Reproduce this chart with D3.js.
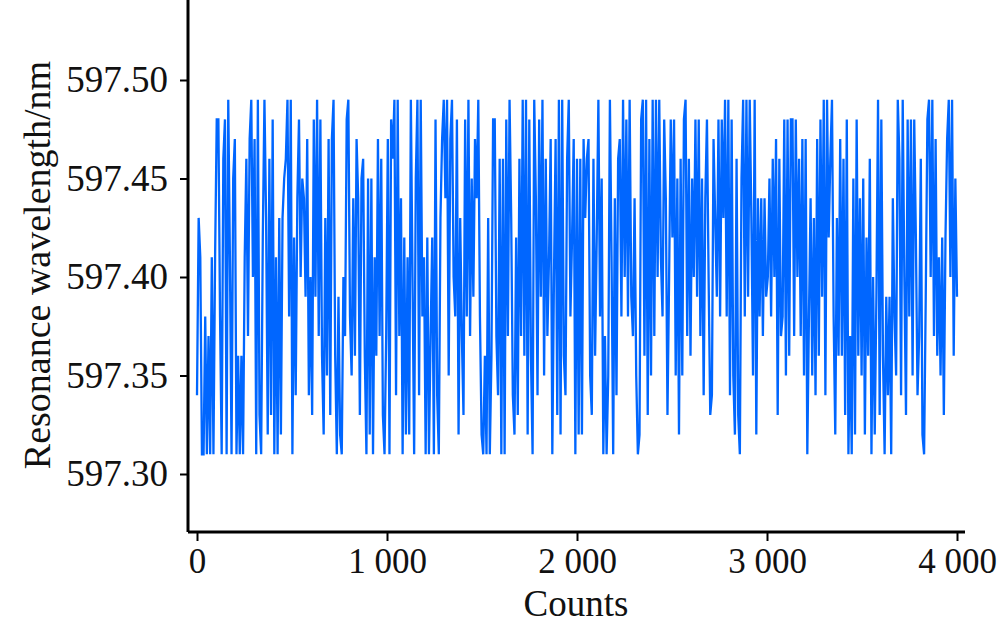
<!DOCTYPE html>
<html><head><meta charset="utf-8">
<script src="https://cdn.jsdelivr.net/npm/d3@7"></script>
<style>body{margin:0;background:#fff}svg{display:block}text{font-family:"Liberation Serif","Times New Roman",serif;fill:#111}</style>
</head><body><svg id="c" width="1000" height="627"></svg>
<script>
// Resonance wavelength readings (nm) left to right
const wavelength = [
597.34,597.43,597.41,597.31,597.31,597.38,597.31,597.37,597.31,597.41,597.31,597.41,597.48,597.48,597.38,597.31,597.46,597.48,597.31,597.49,597.41,597.31,597.45,597.47,597.31,597.36,597.31,597.36,597.31,597.41,597.46,597.37,597.47,597.49,597.40,597.47,597.31,597.49,597.33,597.31,597.42,597.49,597.43,597.32,597.46,597.33,597.48,597.31,597.41,597.31,597.43,597.32,597.43,597.45,597.46,
597.49,597.38,597.49,597.31,597.42,597.34,597.44,597.48,597.40,597.45,597.44,597.39,597.47,597.34,597.40,597.33,597.48,597.39,597.49,597.37,597.48,597.36,597.32,597.43,597.35,597.47,597.33,597.47,597.49,597.36,597.31,597.39,597.32,597.31,597.40,597.37,597.48,597.49,597.38,597.35,597.44,597.36,597.47,597.44,597.33,597.45,597.46,597.36,597.31,597.45,597.32,597.45,597.31,597.41,597.36,597.47,597.37,597.46,597.33,597.31,597.37,597.47,597.31,597.48,
597.46,597.49,597.34,597.49,597.37,597.44,597.31,597.42,597.32,597.41,597.32,597.49,597.40,597.31,597.45,597.49,597.34,597.49,597.38,597.41,597.31,597.42,597.31,597.37,597.42,597.31,597.48,597.34,597.31,597.43,597.47,597.49,597.44,597.49,597.35,597.47,597.49,597.40,597.38,597.48,597.32,597.43,597.37,597.33,597.48,597.38,597.49,597.37,597.45,597.39,597.47,597.44,597.49,597.38,597.32,597.31,597.36,597.31,597.43,597.31,597.36,597.48,
597.48,597.37,597.34,597.46,597.31,597.46,597.31,597.48,597.37,597.49,597.43,597.34,597.32,597.42,597.33,597.46,597.37,597.49,597.36,597.49,597.32,597.48,597.36,597.31,597.49,597.44,597.34,597.48,597.39,597.49,597.35,597.46,597.37,597.41,597.47,597.31,597.40,597.47,597.33,597.49,597.32,597.49,597.36,597.34,597.46,597.49,597.38,597.42,597.47,597.31,597.46,597.32,597.46,597.32,597.47,597.43,597.46,597.47,597.35,597.33,597.46,
597.36,597.42,597.49,597.38,597.45,597.31,597.37,597.31,597.35,597.49,597.41,597.31,597.44,597.34,597.46,597.47,597.38,597.49,597.40,597.48,597.38,597.49,597.39,597.37,597.44,597.35,597.31,597.32,597.48,597.49,597.36,597.49,597.33,597.47,597.35,597.49,597.37,597.49,597.40,597.49,597.41,597.38,597.48,597.44,597.33,597.40,597.48,597.42,597.48,597.35,597.45,597.32,597.46,597.35,597.48,597.49,597.37,597.46,597.36,597.45,
597.40,597.48,597.39,597.48,597.37,597.45,597.34,597.44,597.48,597.40,597.33,597.34,597.47,597.43,597.39,597.48,597.38,597.48,597.43,597.49,597.38,597.49,597.34,597.48,597.35,597.32,597.46,597.33,597.31,597.45,597.49,597.38,597.49,597.39,597.49,597.43,597.35,597.49,597.32,597.44,597.38,597.44,597.37,597.44,597.39,597.40,597.45,597.38,597.46,597.40,597.47,597.33,597.46,597.37,597.38,597.48,597.35,597.48,597.36,597.48,
597.48,597.37,597.48,597.40,597.46,597.37,597.47,597.35,597.47,597.31,597.38,597.44,597.35,597.43,597.34,597.47,597.36,597.48,597.39,597.49,597.34,597.49,597.42,597.46,597.49,597.38,597.32,597.43,597.36,597.47,597.36,597.46,597.33,597.48,597.31,597.37,597.31,597.45,597.32,597.48,597.36,597.44,597.35,597.45,597.32,597.42,597.36,597.46,597.31,597.40,597.32,597.39,597.49,597.33,
597.48,597.36,597.31,597.39,597.34,597.39,597.31,597.44,597.38,597.35,597.49,597.46,597.34,597.49,597.40,597.33,597.48,597.38,597.48,597.35,597.48,597.42,597.34,597.37,597.46,597.32,597.31,597.39,597.48,597.49,597.40,597.49,597.37,597.47,597.36,597.41,597.35,597.42,597.33,597.42,597.47,597.49,597.40,597.49,597.36,597.45,597.39
];
const xTicks = [0, 1000, 2000, 3000, 4000];
const yTicks = [597.30, 597.35, 597.40, 597.45, 597.50];
const xTitle = "Counts";
const yTitle = "Resonance wavelength/nm";

const svg = d3.select("#c");
const x = d3.scaleLinear().domain([0, 4000]).range([197, 957]);
const y = d3.scaleLinear().domain([597.30, 597.50]).range([474, 80]);
const step = 4000 / (wavelength.length - 1);
const pts = wavelength.map((v, i) => [i * step, v]);

svg.append("path").datum(pts)
  .attr("fill", "none").attr("stroke", "#0066ff").attr("stroke-width", 2.3)
  .attr("stroke-linejoin", "miter")
  .attr("d", d3.line().x(d => x(d[0])).y(d => y(d[1])));

// axes
const xAxis = d3.axisBottom(x).tickValues(xTicks).tickSize(9).tickPadding(7)
  .tickFormat(d => d3.format(",")(d).replace(",", " "));
const gx = svg.append("g").attr("transform", "translate(0,532)").call(xAxis);
gx.select(".domain").attr("d", "M188,0H965").attr("stroke-width", 3);
gx.selectAll(".tick line").attr("stroke-width", 2);
gx.selectAll(".tick text").style("font-size", "35px").attr("fill", "#111");

const yAxis = d3.axisLeft(y).tickValues(yTicks).tickSize(8).tickPadding(12)
  .tickFormat(d3.format(".2f"));
const gy = svg.append("g").attr("transform", "translate(188,0)").call(yAxis);
gy.select(".domain").attr("d", "M0,0V532").attr("stroke-width", 3);
gy.selectAll(".tick line").attr("stroke-width", 2);
gy.selectAll(".tick text").style("font-size", "37px").attr("fill", "#111");

svg.append("text").attr("x", 576).attr("y", 616).attr("text-anchor", "middle")
  .style("font-size", "37px").text(xTitle);
svg.append("text").attr("transform", "translate(50,265) rotate(-90)")
  .attr("text-anchor", "middle").style("font-size", "38px").text(yTitle);
</script></body></html>
